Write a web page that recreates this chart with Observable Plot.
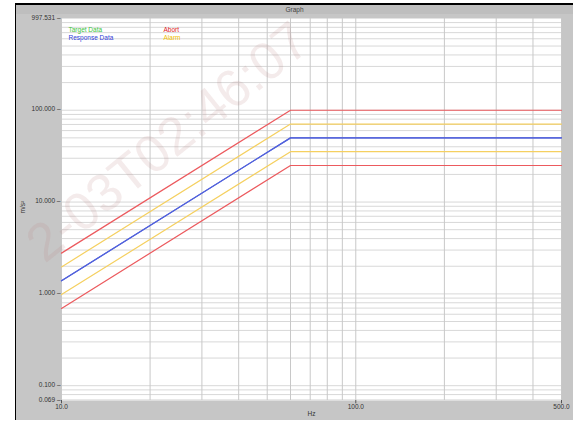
<!DOCTYPE html>
<html>
<head>
<meta charset="utf-8">
<script src="https://cdn.jsdelivr.net/npm/d3@7"></script>
<script src="https://cdn.jsdelivr.net/npm/@observablehq/plot@0.6"></script>
<style>
  html, body { margin: 0; padding: 0; background: #fff; width: 573px; height: 423px; overflow: hidden; }
  #frame { position: absolute; left: 15px; top: 3px; width: 558px; height: 417px; background: #c6c6c6;
           border-top: 2px solid #000; border-left: 1px solid #000; box-sizing: border-box; }
  #titlebar { position: absolute; left: 16px; top: 5px; width: 557px; height: 9px; background: #bebebe;
              font: 6.5px "Liberation Sans", Arial, sans-serif; color: #444; text-align: center; line-height: 9px; }
  #chart { position: absolute; left: 16px; top: 14px; }
  #wm { position: absolute; left: 14px; top: 226px; font: 53px "Liberation Sans", Arial, sans-serif;
        color: rgba(185, 130, 130, 0.16); transform-origin: 0 0; transform: rotate(-39deg); white-space: nowrap; pointer-events: none; }
</style>
</head>
<body>
<div id="frame"></div>
<div id="titlebar">Graph</div>
<div id="chart"></div>
<div id="wm">2-03T02:46:07</div>
<script>
const freq = [10, 60, 500];
const targetData = [1.389, 50, 50];
const responseData = [1.389, 50, 50];
const abortHigh = [2.778, 100, 100];
const abortLow = [0.694, 25, 25];
const alarmHigh = [1.964, 70.71, 70.71];
const alarmLow = [0.982, 35.36, 35.36];
const yTicks = [0.069, 0.1, 1, 10, 100, 997.531];
const xTicks = [10, 100, 500];
const legendLabels = ["Target Data", "Response Data", "Abort", "Alarm"];

const yGrid = [];
for (const d of [0.01, 0.1, 1, 10, 100]) for (let k = 1; k <= 9; k++) { const v = +(d * k).toPrecision(3); if (v >= 0.07 && v < 997) yGrid.push(v); }
const xGrid = [];
for (const d of [10, 100]) for (let k = 1; k <= 9; k++) { const v = d * k; if (v >= 10 && v <= 500) xGrid.push(v); }

const series = (vals) => freq.map((f, i) => ({f, v: vals[i]}));

const colors = { red: "#ec5a5e", yellow: "#f5d060", blue: "#5262dc", green: "#3cc43c" };

const chart = Plot.plot({
  width: 557,
  height: 406,
  marginLeft: 45,
  marginRight: 12,
  marginTop: 4,
  marginBottom: 20,
  x: { type: "log", domain: [10, 500], axis: null },
  y: { type: "log", domain: [0.069, 997.531], axis: null },
  style: { background: "transparent", fontFamily: "'Liberation Sans', Arial, sans-serif", fontSize: "6.5px", color: "#333" },
  marks: [
    Plot.frame({ fill: "#fff", stroke: "none" }),
    Plot.ruleY(yGrid, { stroke: "#d8d8d8", strokeWidth: 1 }),
    Plot.ruleX(xGrid, { stroke: "#c8c8c8", strokeWidth: 1 }),
    Plot.line(series(abortHigh), { x: "f", y: "v", stroke: colors.red, strokeWidth: 1.2 }),
    Plot.line(series(alarmHigh), { x: "f", y: "v", stroke: colors.yellow, strokeWidth: 1.2 }),
    Plot.line(series(targetData), { x: "f", y: "v", stroke: colors.blue, strokeWidth: 1.2 }),
    Plot.line(series(responseData), { x: "f", y: "v", stroke: colors.blue, strokeWidth: 1.2 }),
    Plot.line(series(alarmLow), { x: "f", y: "v", stroke: colors.yellow, strokeWidth: 1.2 }),
    Plot.line(series(abortLow), { x: "f", y: "v", stroke: colors.red, strokeWidth: 1.2 }),
    Plot.text(yTicks, { y: d => d, frameAnchor: "left", dx: -1, dy: -1, textAnchor: "end", text: d => d.toFixed(3) + " \u2013", fill: "#333" }),
    Plot.text(xTicks, { x: d => d, frameAnchor: "bottom", dy: 8, text: d => d.toFixed(1), fill: "#333" }),
    Plot.ruleX(xTicks, { x: d => d, y1: 0.069, y2: 0.0635, stroke: "#555" }),
    Plot.text(["Hz"], { frameAnchor: "bottom", dy: 15, fill: "#333" }),
    Plot.text(["m/s²"], { frameAnchor: "left", dx: -39, dy: 4, rotate: -90, fill: "#333" }),
    Plot.text([legendLabels[0]], { frameAnchor: "top-left", dx: 7, dy: 9, textAnchor: "start", fill: colors.green }),
    Plot.text([legendLabels[1]], { frameAnchor: "top-left", dx: 7, dy: 16.5, textAnchor: "start", fill: "#3040d8" }),
    Plot.text([legendLabels[2]], { frameAnchor: "top-left", dx: 102, dy: 9, textAnchor: "start", fill: "#e02020" }),
    Plot.text([legendLabels[3]], { frameAnchor: "top-left", dx: 102, dy: 16.5, textAnchor: "start", fill: "#f0c000" })
  ]
});
document.getElementById("chart").appendChild(chart);
</script>
</body>
</html>
